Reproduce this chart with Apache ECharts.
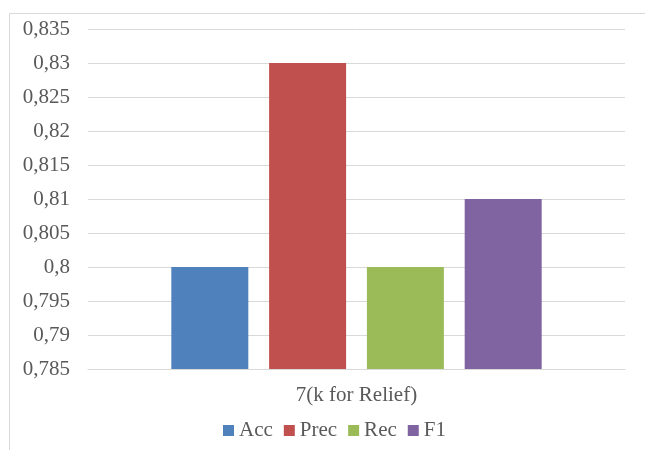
<!DOCTYPE html>
<html>
<head>
<meta charset="utf-8">
<script src="https://cdn.jsdelivr.net/npm/echarts@6/dist/echarts.min.js"></script>
<style>
  html, body { margin: 0; padding: 0; background: #fff; }
  #chart { width: 645px; height: 450px; }
</style>
</head>
<body>
<div id="chart"></div>
<script>
var categories = ["7(k for Relief)"];
var seriesNames = ["Acc", "Prec", "Rec", "F1"];
var accValues = [0.8];
var precValues = [0.83];
var recValues = [0.8];
var f1Values = [0.81];
var colors = ["#4F81BD", "#C0504D", "#9BBB59", "#8064A2"];

var font = "Liberation Serif";
var allValues = [accValues, precValues, recValues, f1Values];

var myChart = echarts.init(document.getElementById("chart"));
myChart.setOption({
  animation: false,
  textStyle: { fontFamily: font },
  graphic: [
    {
      type: "rect",
      left: 7,
      top: 11,
      shape: { width: 700, height: 500 },
      style: { fill: "none", stroke: "#D9D9D9", lineWidth: 1 },
      silent: true
    }
  ],
  grid: { left: 88, right: 20, top: 29, bottom: 81 },
  legend: {
    top: 415,
    left: 218,
    itemWidth: 11,
    itemHeight: 11,
    itemGap: 11,
    icon: "rect",
    textStyle: { color: "#595959", fontSize: 21, fontFamily: font },
    data: seriesNames
  },
  xAxis: {
    type: "category",
    data: categories,
    axisLine: { show: true, lineStyle: { color: "#D9D9D9", width: 1 } },
    axisTick: { show: false },
    axisLabel: { color: "#595959", fontSize: 21, fontFamily: font, margin: 16 }
  },
  yAxis: {
    type: "value",
    min: 0.785,
    max: 0.835,
    interval: 0.005,
    axisLine: { show: false },
    axisTick: { show: false },
    splitLine: { lineStyle: { color: "#D9D9D9", width: 1 } },
    axisLabel: {
      color: "#595959",
      fontSize: 21,
      fontFamily: font,
      margin: 18,
      formatter: function (v) {
        return String(+v.toFixed(3)).replace(".", ",");
      }
    }
  },
  series: seriesNames.map(function (name, i) {
    return {
      name: name,
      type: "bar",
      barWidth: 77,
      barGap: "27%",
      itemStyle: { color: colors[i] },
      data: allValues[i]
    };
  })
});
</script>
</body>
</html>
